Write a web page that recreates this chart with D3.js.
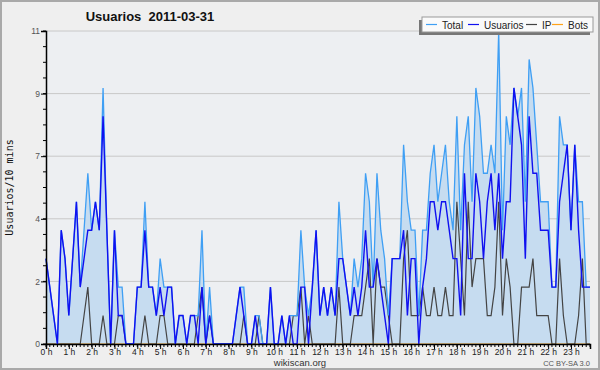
<!DOCTYPE html>
<html>
<head>
<meta charset="utf-8">
<script src="https://cdn.jsdelivr.net/npm/d3@7"></script>
<style>
  body { margin: 0; background: #efefef; }
</style>
</head>
<body>
<svg width="600" height="370"></svg>
<script>
// one value every 10 minutes, 144 slots
const total = [3,2,1,0,4,3,1,3,5,2,4,6,4,5,4,9,4,0,4,2,2,0,0,0,
  2,2,5,2,2,1,3,2,2,2,0,1,1,0,1,1,1,4,0,2,0,0,0,0,
  0,0,1,2,2,0,0,1,1,0,0,2,0,0,1,0,1,1,1,4,2,1,2,4,
  1,2,1,2,1,5,3,2,1,3,2,3,6,5,2,6,4,3,1,3,3,3,7,5,
  4,4,1,4,4,6,7,5,6,7,5,4,8,4,7,8,5,9,8,6,6,7,6,11,
  4,8,7,9,8,9,5,10,9,7,5,5,5,2,2,8,7,7,4,7,5,5,2,2];
const usuarios = [3,2,1,0,4,3,1,3,5,2,3,4,4,5,4,8,4,0,4,1,1,0,0,0,
  2,2,4,2,2,1,2,1,2,2,0,1,1,0,1,1,0,2,0,1,0,0,0,0,
  0,0,1,2,1,0,0,1,0,0,0,2,0,0,1,0,1,0,0,2,2,0,2,4,
  1,2,1,2,1,3,3,2,1,2,1,2,4,2,2,3,2,1,0,3,3,3,4,1,
  3,3,0,2,3,5,5,4,5,5,4,3,3,1,6,3,3,6,5,3,5,6,4,6,
  3,5,5,9,8,7,3,8,6,6,4,4,4,2,2,5,6,7,4,7,4,2,2,2];
const ip = [0,0,0,0,0,0,0,0,0,0,1,2,0,0,0,1,0,0,0,1,1,0,0,0,
  0,0,1,0,0,0,1,1,0,0,0,0,0,0,0,0,1,2,0,1,0,0,0,0,
  0,0,0,0,1,0,0,0,1,0,0,0,0,0,0,0,0,1,1,2,0,1,0,0,
  0,0,0,0,0,2,0,0,0,1,1,1,2,3,0,3,2,2,1,0,0,0,3,4,
  1,1,1,2,1,1,2,1,1,2,1,1,5,3,1,5,2,3,3,3,1,1,2,5,
  1,3,2,0,0,2,2,2,3,1,1,1,1,0,0,3,1,0,0,0,1,3,0,0];
const bots = new Array(144).fill(0);

const yTicks = [0, 2.2, 4.4, 6.6, 8.8, 11];
const yTickLabels = ['0', '2', '4', '7', '9', '11'];
const hourLabels = d3.range(24).map(h => h + ' h');
const legendNames = ['Total', 'Usuarios', 'IP', 'Bots'];
const legendColors = ['#3f9ff4', '#1010f0', '#444444', '#ffa31a'];

const sans = '"Liberation Sans", Arial, sans-serif';

const svg = d3.select('svg');
const width = +svg.attr('width');
const height = +svg.attr('height');

// frame
svg.append('rect')
    .attr('x', 1).attr('y', 1)
    .attr('width', width - 2).attr('height', height - 2)
    .attr('fill', '#efefef')
    .attr('stroke', '#a9a9a9')
    .attr('stroke-width', 2);

const x = d3.scaleLinear().domain([0, 143]).range([46, 590]);
const y = d3.scaleLinear().domain([0, 11]).range([344, 31]);

// plot background
svg.append('rect')
    .attr('x', x(0)).attr('y', y(11))
    .attr('width', x(143) - x(0)).attr('height', y(0) - y(11))
    .attr('fill', '#edeff2');

// grid
svg.append('g')
    .selectAll('line')
    .data(yTicks.slice(1))
    .join('line')
      .attr('x1', x(0)).attr('x2', x(143))
      .attr('y1', d => y(d)).attr('y2', d => y(d))
      .attr('stroke', '#c8c8c8');

// area under total
svg.append('path')
    .attr('d', d3.area()
        .x((d, i) => x(i))
        .y0(y(0))
        .y1(d => y(d))(total))
    .attr('fill', '#c6dcf0');

const line = d3.line().x((d, i) => x(i)).y(d => y(d));

svg.append('path').attr('d', line(bots))
    .attr('fill', 'none').attr('stroke', legendColors[3]).attr('stroke-width', 1.2);
svg.append('path').attr('d', line(ip))
    .attr('fill', 'none').attr('stroke', legendColors[2]).attr('stroke-width', 1.2);
svg.append('path').attr('d', line(total))
    .attr('fill', 'none').attr('stroke', legendColors[0]).attr('stroke-width', 1.3);
svg.append('path').attr('d', line(usuarios))
    .attr('fill', 'none').attr('stroke', legendColors[1]).attr('stroke-width', 1.4);

// y axis
const yAxis = svg.append('g')
    .attr('transform', `translate(${x(0)},0)`)
    .call(d3.axisLeft(y)
        .tickValues(yTicks)
        .tickSize(5)
        .tickFormat((d, i) => yTickLabels[i]));
yAxis.select('.domain').attr('stroke', '#000').attr('stroke-width', 1.5);
yAxis.selectAll('text')
    .style('font-family', sans)
    .attr('font-size', 8.5)
    .attr('fill', '#555')
    .attr('dx', 2);
yAxis.selectAll('.minor')
    .data(d3.range(0, 11.01, 0.55))
    .join('line')
      .attr('class', 'minor')
      .attr('x1', -3).attr('x2', 0)
      .attr('y1', d => y(d)).attr('y2', d => y(d))
      .attr('stroke', '#000');

// x axis, labels every hour, small ticks every 10 min
const xAxis = svg.append('g')
    .attr('transform', `translate(0,${y(0)})`)
    .call(d3.axisBottom(x)
        .tickValues(d3.range(0, 144, 6))
        .tickSize(5)
        .tickPadding(0)
        .tickFormat((d, i) => hourLabels[i]));
xAxis.select('.domain').attr('stroke', '#000').attr('stroke-width', 1.5);
xAxis.selectAll('text')
    .style('font-family', sans)
    .attr('font-size', 8.5)
    .attr('fill', '#222');
xAxis.selectAll('.minor')
    .data(d3.range(0, 144, 1))
    .join('line')
      .attr('class', 'minor')
      .attr('x1', d => x(d)).attr('x2', d => x(d))
      .attr('y1', 0).attr('y2', 3)
      .attr('stroke', '#000');

// titles
svg.append('text')
    .attr('x', 150).attr('y', 21)
    .attr('text-anchor', 'middle')
    .style('font-family', sans)
    .attr('font-size', 13)
    .attr('font-weight', 'bold')
    .attr('fill', '#111')
    .attr('xml:space', 'preserve')
    .text('Usuarios  2011-03-31');

svg.append('text')
    .attr('transform', `translate(13,${(y(0) + y(11)) / 2}) rotate(-90)`)
    .attr('text-anchor', 'middle')
    .style('font-family', '"DejaVu Sans Mono", monospace')
    .attr('font-size', 10)
    .attr('fill', '#111')
    .text('Usuarios/10 mins');

svg.append('text')
    .attr('x', 300).attr('y', 366)
    .attr('text-anchor', 'middle')
    .style('font-family', sans)
    .attr('font-size', 9.5)
    .attr('fill', '#333')
    .text('wikiscan.org');

svg.append('text')
    .attr('x', 590).attr('y', 366)
    .attr('text-anchor', 'end')
    .style('font-family', sans)
    .attr('font-size', 7.5)
    .attr('fill', '#555')
    .text('CC BY-SA 3.0');

// legend
const legend = svg.append('g');
legend.append('rect')
    .attr('x', 419).attr('y', 20).attr('width', 171).attr('height', 15)
    .attr('fill', '#777');
legend.append('rect')
    .attr('x', 422).attr('y', 17).attr('width', 171).attr('height', 15)
    .attr('fill', '#fafafa').attr('stroke', '#999');

const legendX = [426, 468, 526, 552];
const items = legend.selectAll('.item')
    .data(legendNames)
    .join('g')
      .attr('class', 'item')
      .attr('transform', (d, i) => `translate(${legendX[i]},0)`);
items.append('line')
    .attr('x1', 0).attr('x2', 11)
    .attr('y1', 24.5).attr('y2', 24.5)
    .attr('stroke', (d, i) => legendColors[i])
    .attr('stroke-width', 1.2);
items.append('text')
    .attr('x', 16).attr('y', 28.5)
    .style('font-family', sans)
    .attr('font-size', 10)
    .attr('fill', '#222')
    .text(d => d);
</script>
</body>
</html>
